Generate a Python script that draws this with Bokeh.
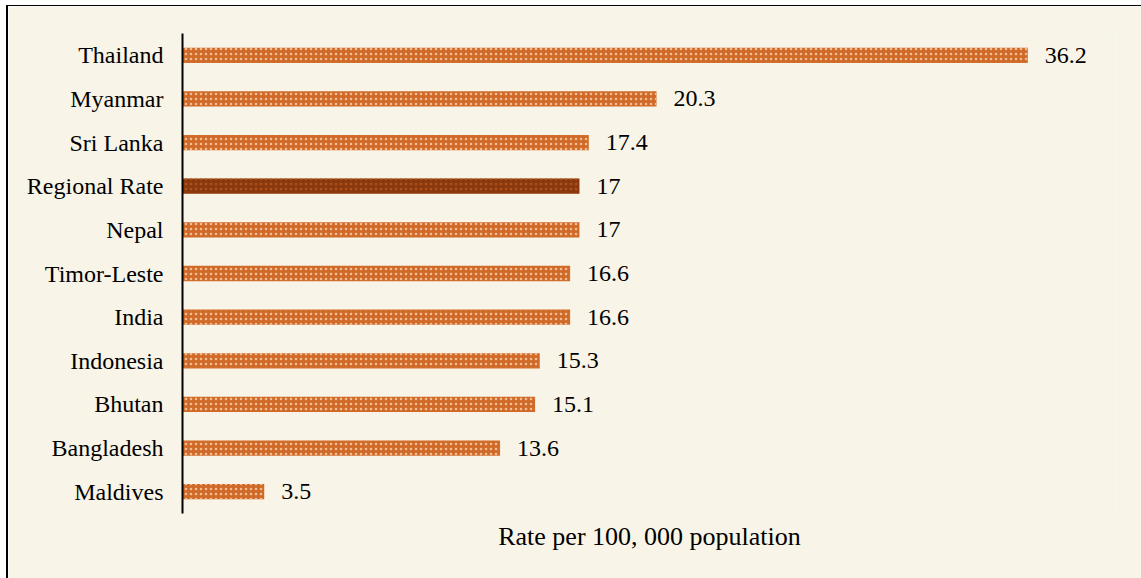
from bokeh.plotting import figure
from bokeh.models import ColumnDataSource, FactorRange, FixedTicker
from bokeh.core.properties import value
from bokeh.embed import file_html
from bokeh.resources import INLINE

countries = ["Thailand", "Myanmar", "Sri Lanka", "Regional Rate", "Nepal", "Timor-Leste",
             "India", "Indonesia", "Bhutan", "Bangladesh", "Maldives"]
rates = [36.2, 20.3, 17.4, 17, 17, 16.6, 16.6, 15.3, 15.1, 13.6, 3.5]
rate_labels = ["36.2", "20.3", "17.4", "17", "17", "16.6", "16.6", "15.3", "15.1", "13.6", "3.5"]
axis_title = "Rate per 100, 000 population"

BG = "#F8F4E7"
BAR = "#D06A28"
BAR_HATCH = "#F0BE96"
REG = "#8A390E"
REG_HATCH = "#B0521C"

fills = [REG if c == "Regional Rate" else BAR for c in countries]
hatches = [REG_HATCH if c == "Regional Rate" else BAR_HATCH for c in countries]

src = ColumnDataSource(dict(country=countries, rate=rates, label=rate_labels,
                            fill=fills, hatch=hatches))

FONT = "'Liberation Serif', 'Times New Roman', serif"

p = figure(y_range=FactorRange(*countries[::-1]), x_range=(0, 40),
           frame_width=934, frame_height=480,
           min_border_left=174, min_border_right=25, min_border_top=27, min_border_bottom=65,
           output_backend="svg", toolbar_location=None)
p.styles = {"margin-left": "6px", "margin-top": "5px",
            "border-left": "2px solid black", "border-top": "1px solid black"}

p.background_fill_color = BG
p.border_fill_color = BG
p.outline_line_color = None
p.xgrid.visible = False
p.ygrid.visible = False

p.hbar(y="country", left=0, right="rate", height=0.35, source=src,
       fill_color="fill", line_color=None,
       hatch_pattern="dot", hatch_color="hatch", hatch_scale=5, hatch_weight=2.5)

p.text(x="rate", y="country", text="label", source=src, x_offset=17,
       text_baseline="middle", text_align="left",
       text_font=value(FONT), text_font_size="24px", text_color="black")

ya = p.yaxis[0]
ya.axis_line_color = "black"
ya.axis_line_width = 2
ya.major_tick_line_color = None
ya.minor_tick_line_color = None
ya.major_tick_out = 0
ya.major_label_standoff = 19
ya.major_label_text_font = FONT
ya.major_label_text_font_size = "24px"
ya.major_label_text_color = "black"

xa = p.xaxis[0]
xa.ticker = FixedTicker(ticks=[])
xa.axis_line_color = None
xa.major_tick_line_color = None
xa.minor_tick_line_color = None
xa.major_tick_out = 0
xa.major_label_standoff = 0
xa.axis_label = axis_title
xa.axis_label_standoff = 8
xa.axis_label_text_font = FONT
xa.axis_label_text_font_size = "26px"
xa.axis_label_text_font_style = "normal"
xa.axis_label_text_color = "black"

open("out.html", "w").write(file_html(p, INLINE))
